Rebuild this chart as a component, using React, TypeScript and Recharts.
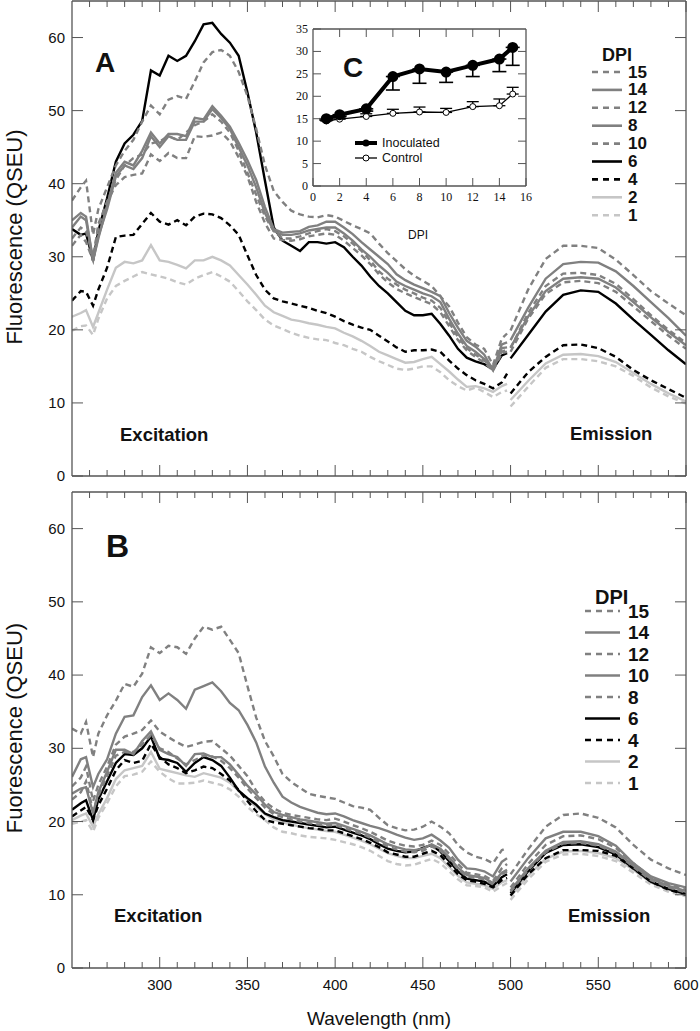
import React from 'react';
import { LineChart, Line, XAxis, YAxis, ErrorBar } from 'recharts';

const FONT = '"Liberation Sans", Arial, sans-serif';
const SERIF = '"Liberation Serif", "Times New Roman", serif';
const INK = '#111';
const AXIS = '#555';
const GRAY = '#808080';
const LIGHT = '#c6c6c6';
const BLACK = '#000';

// wavelengths (nm): excitation scan, then emission scan
const exWl = [
  250, 255, 258, 262, 265, 270, 275, 280, 285, 290,
  295, 300, 305, 310, 315, 320, 325, 330, 335, 340,
  345, 350, 355, 360, 365, 370, 375, 380, 385, 390,
  395, 400, 405, 410, 415, 420, 425, 430, 435, 440,
  445, 450, 455, 460, 465, 470, 475, 480, 485, 490,
  495, 498,
];
const emWl = [500, 510, 520, 530, 540, 550, 560, 570, 580, 590, 600];

const xTicks = [260, 270, 280, 290, 300, 310, 320, 330, 340, 350, 360, 370, 380, 390, 400, 410, 420, 430, 440, 450, 460, 470, 480, 490, 500, 510, 520, 530, 540, 550, 560, 570, 580, 590, 600];
const yTicks = [0, 10, 20, 30, 40, 50, 60];

// panel A
const a15Ex = [
  37.7, 39.5, 40.4, 33.0, 36.5, 39.5, 42.5, 44.5, 46.0, 48.5,
  50.7, 49.5, 51.5, 52.0, 51.6, 54.0, 56.6, 58.0, 58.3, 57.5,
  55.3, 52.0, 47.5, 42.5, 39.0, 37.5, 36.3, 35.8, 35.5, 35.4,
  35.7, 35.5, 34.9, 34.3, 33.8, 33.2, 31.8, 30.5, 29.4, 28.3,
  27.4, 26.7, 26.0, 24.6, 23.2, 21.0, 19.0, 18.0, 17.4, 15.2,
  18.8, 19.5,
];
const a15Em = [19.9, 25.5, 29.7, 31.5, 31.5, 31.2, 29.6, 27.5, 25.3, 23.6, 22.0];

const a14Ex = [
  35.0, 36.0, 35.5, 29.5, 32.5, 37.0, 41.5, 43.0, 42.5, 44.5,
  47.0, 45.5, 46.8, 46.8, 46.5, 49.0, 48.8, 50.6, 49.3, 47.8,
  45.6, 43.2, 40.5, 36.8, 33.8, 33.3, 33.4, 33.5, 34.1, 34.3,
  34.8, 34.8, 34.0, 33.1, 32.0, 31.0, 30.0, 29.0, 27.6, 26.8,
  26.2, 25.7, 25.2, 24.6, 22.3, 20.3, 18.5, 17.7, 16.6, 14.5,
  18.0, 18.3,
];
const a14Em = [18.6, 23.0, 27.0, 29.0, 29.3, 29.2, 28.0, 26.0, 23.8, 21.6, 19.2];

const a12Ex = [
  32.5, 34.0, 33.5, 30.0, 34.0, 37.5, 40.5, 42.5, 43.5, 44.0,
  45.5, 45.8, 46.5, 46.0, 47.0, 48.0, 48.5, 49.5, 48.5, 47.0,
  44.5, 41.5, 38.5, 35.5, 33.5, 32.5, 32.5, 32.8, 33.2, 33.5,
  33.8, 33.5, 32.8, 31.8, 30.8, 29.5, 28.0, 27.0, 26.2, 25.5,
  25.0, 24.4, 24.0, 23.0, 21.0, 19.0, 17.5, 16.6, 15.8, 14.8,
  17.0, 17.3,
];
const a12Em = [17.5, 22.3, 26.0, 27.7, 27.8, 27.5, 26.3, 24.2, 22.0, 20.0, 18.2];

const a8Ex = [
  34.0, 35.5, 35.0, 29.5, 32.8, 36.5, 41.0, 42.5, 42.0, 43.5,
  46.5, 45.0, 46.5, 46.0, 46.0, 48.5, 48.5, 50.2, 49.0, 47.5,
  45.0, 42.5, 39.5, 36.0, 33.5, 33.0, 33.0, 33.2, 33.6, 33.8,
  34.0, 34.0, 33.2, 32.2, 31.0, 30.0, 28.8, 27.8, 26.6, 26.0,
  25.5, 25.0, 24.6, 23.8, 21.5, 19.5, 17.8, 17.0, 16.0, 14.5,
  17.5, 17.6,
];
const a8Em = [17.6, 21.8, 25.3, 27.0, 27.2, 27.0, 25.8, 23.8, 21.7, 19.7, 17.9];

const a10Ex = [
  31.5, 33.0, 32.0, 29.5, 34.5, 37.5, 39.8, 40.9, 41.2, 41.4,
  44.0, 43.1, 44.2, 43.5, 43.5, 46.5, 46.4, 46.6, 47.0, 45.8,
  43.6, 41.0, 37.5, 34.6, 32.5, 32.3, 32.2, 32.4, 32.8, 33.0,
  33.2, 33.0, 32.2, 31.2, 30.2, 29.0, 27.6, 26.5, 25.6, 25.0,
  24.5, 24.0, 23.5, 22.4, 20.5, 18.6, 17.2, 16.3, 15.5, 14.4,
  16.8, 17.0,
];
const a10Em = [17.0, 21.5, 24.9, 26.5, 26.7, 26.4, 25.2, 23.2, 21.2, 19.2, 17.4];

const a6Ex = [
  33.8, 33.0, 33.2, 29.5, 33.5, 38.0, 43.0, 45.5, 46.7, 48.6,
  55.5, 54.8, 57.5, 56.8, 57.5, 59.5, 61.8, 62.0, 60.5, 59.3,
  57.5, 52.5, 47.0, 40.4, 34.0, 32.2, 31.5, 30.8, 32.0, 32.0,
  31.8, 32.0, 31.3, 30.0, 28.8, 27.3, 26.0, 25.0, 23.8, 22.6,
  22.0, 22.0, 22.2, 20.8, 19.2, 17.4, 16.2, 15.7, 15.3, 14.6,
  16.5, 16.8,
];
const a6Em = [16.1, 19.3, 22.5, 24.8, 25.4, 25.2, 23.6, 21.4, 19.3, 17.2, 15.3];

const a4Ex = [
  24.0, 25.3, 25.2, 23.3, 25.5, 28.5, 32.7, 32.9, 33.0, 34.5,
  36.0, 34.8, 34.4, 35.0, 34.3, 35.5, 35.9, 35.8, 35.3, 34.3,
  33.0, 30.2, 27.5, 25.5, 24.3, 23.9, 23.6, 23.3, 23.0, 22.6,
  22.3, 21.8, 21.2, 20.7, 20.3, 20.0, 19.2, 18.4, 17.6, 17.0,
  17.2, 17.2, 17.3, 17.0, 15.8, 14.7, 13.8, 13.1, 12.6, 12.0,
  12.8, 14.0,
];
const a4Em = [11.3, 14.2, 16.3, 17.9, 18.0, 17.5, 16.3, 14.5, 13.1, 11.9, 10.7];

const a2Ex = [
  21.8, 22.3, 22.7, 20.4, 22.3, 25.5, 28.5, 29.3, 29.1, 29.5,
  31.6, 29.5, 29.3, 28.9, 28.4, 29.5, 29.5, 30.0, 29.5, 28.8,
  27.5, 26.2, 24.8, 23.3, 22.4, 21.9, 21.4, 21.2, 20.9, 20.7,
  20.4, 20.2, 19.6, 19.1, 18.5, 17.8, 17.0, 16.5, 16.0, 15.5,
  15.6, 16.0, 16.3, 15.3, 14.3, 13.2, 12.2, 12.3, 12.0, 11.5,
  12.3, 12.6,
];
const a2Em = [10.4, 13.0, 15.4, 16.6, 16.7, 16.4, 15.6, 14.1, 12.6, 11.3, 10.2];

const a1Ex = [
  19.9, 20.5, 20.6, 19.3, 21.5, 24.3, 26.0, 26.7, 27.3, 27.9,
  27.6, 27.3, 27.0, 26.5, 26.2, 27.0, 27.5, 27.9, 27.3, 26.6,
  25.3, 23.9, 22.7, 21.4, 20.6, 20.1, 19.6, 19.2, 18.9, 18.7,
  18.6, 18.2, 17.9, 17.4, 17.0, 16.3, 15.7, 15.2, 14.7, 14.5,
  14.7, 15.0, 15.0, 14.2, 13.1, 12.3, 11.7, 12.1, 11.5, 10.8,
  11.5, 11.7,
];
const a1Em = [9.5, 12.2, 14.8, 16.0, 16.0, 15.7, 15.0, 13.7, 12.1, 10.9, 9.9];

// panel B
const b15Ex = [
  32.7, 32.0, 33.6, 28.8, 32.0, 34.5, 36.5, 38.8, 38.4, 40.2,
  43.8, 43.0, 44.0, 43.8, 42.9, 45.0, 46.6, 46.2, 46.6, 44.8,
  43.0, 38.5, 34.2, 31.0, 28.9, 26.5, 25.4, 24.6, 23.8, 23.5,
  23.3, 23.1, 22.6, 22.1, 21.9, 21.6, 20.5, 19.5, 19.1, 18.8,
  18.9, 19.3, 20.0, 19.3, 18.4, 16.8, 15.8, 15.2, 14.9, 14.3,
  16.1, 16.4,
];
const b15Em = [12.8, 16.2, 19.3, 20.9, 21.1, 20.5, 19.2, 16.8, 14.8, 13.6, 12.7];

const b14Ex = [
  26.1, 28.5, 28.8, 24.7, 26.5, 28.5, 32.0, 34.3, 34.5, 37.0,
  38.6, 36.6, 37.5, 36.6, 35.4, 38.0, 38.5, 39.0, 37.8, 36.2,
  35.2, 33.2, 30.8, 27.5, 25.3, 23.4, 22.6, 22.0, 21.6, 21.2,
  21.0, 21.1, 20.7, 20.2, 19.8, 19.4, 19.1, 18.7, 18.2, 17.8,
  17.5, 17.7, 18.2, 17.4, 16.4, 14.8, 13.6, 13.5, 13.2, 12.5,
  14.5, 15.0,
];
const b14Em = [11.8, 15.0, 17.7, 18.6, 18.6, 18.0, 16.7, 14.3, 12.5, 11.6, 11.0];

const b12Ex = [
  24.8, 26.0, 27.5, 22.8, 25.0, 27.5, 30.5, 31.6, 32.0, 32.5,
  33.8, 32.3, 31.5, 30.8, 30.2, 30.5, 30.9, 31.0, 30.0, 29.0,
  27.6, 26.2, 24.2, 22.7, 21.8, 21.2, 20.9, 20.7, 20.5, 20.3,
  20.2, 20.4, 20.0, 19.5, 19.1, 18.6, 18.0, 17.4, 17.0, 16.7,
  16.6, 16.8, 17.4, 16.8, 15.6, 14.2, 13.0, 12.8, 12.6, 11.9,
  13.6, 14.2,
];
const b12Em = [11.0, 14.2, 16.8, 18.0, 18.1, 17.6, 16.4, 14.3, 12.4, 11.4, 10.7];

const b10Ex = [
  23.8, 24.5, 24.7, 21.1, 24.0, 26.8, 29.8, 29.8, 29.2, 31.0,
  32.3, 29.8, 29.2, 28.8, 27.6, 29.2, 29.3, 28.8, 28.8, 27.8,
  26.4, 24.9, 23.7, 22.3, 21.3, 20.9, 20.6, 20.3, 20.1, 19.9,
  19.7, 19.8, 19.4, 19.0, 18.6, 18.1, 17.5, 16.9, 16.5, 16.2,
  16.1, 16.3, 16.9, 16.3, 15.1, 13.7, 12.7, 12.5, 12.3, 11.6,
  13.0, 13.4,
];
const b10Em = [10.6, 13.6, 16.0, 17.2, 17.3, 16.9, 15.9, 14.0, 12.2, 11.2, 10.5];

const b8Ex = [
  23.0, 24.0, 25.5, 21.5, 23.5, 26.2, 29.0, 29.5, 29.5, 30.5,
  31.8, 30.0, 29.5, 28.6, 27.8, 28.4, 29.0, 28.9, 28.3, 27.3,
  26.0, 24.5, 23.2, 21.9, 21.0, 20.6, 20.3, 20.0, 19.8, 19.6,
  19.5, 19.5, 19.1, 18.7, 18.3, 17.8, 17.2, 16.6, 16.2, 15.9,
  15.8, 16.0, 16.6, 16.0, 14.9, 13.5, 12.5, 12.3, 12.1, 11.4,
  12.8, 13.2,
];
const b8Em = [10.4, 13.4, 15.8, 17.0, 17.1, 16.7, 15.7, 13.8, 12.0, 11.0, 10.3];

const b6Ex = [
  21.6, 22.5, 22.9, 20.2, 23.0, 25.5, 28.0, 29.2, 29.1, 30.0,
  31.6, 28.6, 28.4, 28.0, 26.8, 28.0, 28.8, 28.4, 27.6, 26.0,
  24.2, 23.2, 22.3, 21.1, 20.6, 20.2, 20.0, 19.8, 19.6, 19.4,
  19.2, 19.3, 18.9, 18.5, 18.1, 17.6, 16.9, 16.3, 16.0, 15.8,
  15.9, 16.4, 16.8, 15.9, 14.6, 13.2, 12.2, 12.0, 11.8, 11.2,
  12.4, 12.8,
];
const b6Em = [10.2, 13.2, 15.7, 16.8, 16.9, 16.5, 15.5, 13.6, 11.8, 10.8, 10.1];

const b4Ex = [
  20.7, 21.5, 22.0, 20.2, 22.2, 24.5, 27.0, 28.4, 28.0, 28.3,
  30.6, 28.8, 27.8, 27.3, 26.6, 27.0, 27.5, 27.3, 26.5, 25.6,
  24.3, 22.8, 21.4, 20.2, 19.9, 19.7, 19.5, 19.3, 19.1, 19.0,
  18.8, 18.8, 18.4, 18.0, 17.6, 17.1, 16.5, 15.8, 15.5, 15.2,
  15.2, 15.6, 16.0, 15.4, 14.1, 12.8, 12.0, 11.8, 11.5, 11.0,
  12.0, 12.3,
];
const b4Em = [9.9, 12.8, 15.0, 16.1, 16.1, 16.0, 15.3, 13.6, 11.8, 10.7, 10.0];

const b2Ex = [
  20.2, 20.8, 21.1, 19.3, 21.0, 23.2, 25.8, 27.0, 27.3, 27.6,
  29.5, 27.2, 26.9, 26.6, 26.3, 26.1, 26.6, 26.3, 26.0, 25.3,
  24.2, 23.0, 22.0, 21.0, 20.3, 19.9, 19.6, 19.3, 19.1, 18.9,
  18.7, 18.6, 18.2, 17.8, 17.4, 16.9, 16.3, 15.7, 15.3, 15.0,
  15.0, 15.3, 15.6, 15.0, 13.8, 12.6, 11.7, 11.5, 11.3, 10.8,
  11.7, 12.0,
];
const b2Em = [9.8, 12.6, 14.9, 15.9, 16.0, 15.7, 15.0, 13.4, 11.7, 10.7, 10.0];

const b1Ex = [
  19.7, 20.0, 20.2, 18.6, 20.5, 22.5, 24.8, 26.2, 26.4, 26.8,
  28.2, 26.8, 25.9, 25.2, 25.2, 25.3, 25.6, 25.3, 25.0, 24.4,
  23.4, 22.0, 21.0, 20.2, 19.2, 18.6, 18.4, 18.1, 17.9, 17.8,
  17.7, 17.5, 17.2, 16.9, 16.5, 16.0, 15.3, 14.6, 14.2, 14.0,
  14.1, 14.5, 14.9, 14.3, 13.2, 12.1, 11.3, 11.2, 11.0, 10.4,
  11.2, 11.6,
];
const b1Em = [9.3, 12.1, 14.5, 15.5, 15.6, 15.3, 14.6, 13.0, 11.4, 10.4, 9.8];

// inset C: mean fluorescence per day
const dpiDays = [1, 2, 4, 6, 8, 10, 12, 14, 15];
const inoculated = [15.0, 15.9, 17.2, 24.4, 26.1, 25.4, 26.9, 28.3, 30.9];
const inoculatedErr = [0.3, 0.4, 0.5, 3.0, 3.2, 2.3, 2.5, 2.8, 4.0];
const control = [14.5, 14.9, 15.5, 16.2, 16.5, 16.4, 17.7, 17.9, 20.5];
const controlErr = [0.2, 0.3, 0.6, 0.9, 1.1, 0.9, 1.1, 1.5, 1.5];

type Series = { key: string; label: string; ex: number[]; em: number[]; color: string; dashed: boolean };

const seriesA: Series[] = [
  { key: 'd15', label: '15', ex: a15Ex, em: a15Em, color: GRAY, dashed: true },
  { key: 'd14', label: '14', ex: a14Ex, em: a14Em, color: GRAY, dashed: false },
  { key: 'd12', label: '12', ex: a12Ex, em: a12Em, color: GRAY, dashed: true },
  { key: 'd8', label: '8', ex: a8Ex, em: a8Em, color: GRAY, dashed: false },
  { key: 'd10', label: '10', ex: a10Ex, em: a10Em, color: GRAY, dashed: true },
  { key: 'd6', label: '6', ex: a6Ex, em: a6Em, color: BLACK, dashed: false },
  { key: 'd4', label: '4', ex: a4Ex, em: a4Em, color: BLACK, dashed: true },
  { key: 'd2', label: '2', ex: a2Ex, em: a2Em, color: LIGHT, dashed: false },
  { key: 'd1', label: '1', ex: a1Ex, em: a1Em, color: LIGHT, dashed: true },
];

const seriesB: Series[] = [
  { key: 'd15', label: '15', ex: b15Ex, em: b15Em, color: GRAY, dashed: true },
  { key: 'd14', label: '14', ex: b14Ex, em: b14Em, color: GRAY, dashed: false },
  { key: 'd12', label: '12', ex: b12Ex, em: b12Em, color: GRAY, dashed: true },
  { key: 'd10', label: '10', ex: b10Ex, em: b10Em, color: GRAY, dashed: false },
  { key: 'd8', label: '8', ex: b8Ex, em: b8Em, color: GRAY, dashed: true },
  { key: 'd6', label: '6', ex: b6Ex, em: b6Em, color: BLACK, dashed: false },
  { key: 'd4', label: '4', ex: b4Ex, em: b4Em, color: BLACK, dashed: true },
  { key: 'd2', label: '2', ex: b2Ex, em: b2Em, color: LIGHT, dashed: false },
  { key: 'd1', label: '1', ex: b1Ex, em: b1Em, color: LIGHT, dashed: true },
];

const buildRows = (series: Series[]) => {
  const rows: Record<string, number | null>[] = exWl.map((wl, i) => {
    const r: Record<string, number | null> = { wl };
    series.forEach((s) => (r[s.key] = s.ex[i]));
    return r;
  });
  // break between excitation and emission scans
  const gap: Record<string, number | null> = { wl: 499 };
  series.forEach((s) => (gap[s.key] = null));
  rows.push(gap);
  emWl.forEach((wl, i) => {
    const r: Record<string, number | null> = { wl };
    series.forEach((s) => (r[s.key] = s.em[i]));
    rows.push(r);
  });
  return rows;
};

const insetRows = dpiDays.map((d, i) => ({
  dpi: d,
  inoc: inoculated[i],
  inocErr: [inoculatedErr[i], 0],
  ctrl: control[i],
  ctrlErr: [0, controlErr[i]],
}));

// inward ticks ---------------------------------------------------------
const bottomTick = (showLabel: boolean) => (p: any) => {
  const { x, y, payload } = p;
  const major = payload.value % 50 === 0;
  return (
    <g>
      <line x1={x} x2={x} y1={y} y2={y - (major ? 11 : 6)} stroke={AXIS} />
      {showLabel && major && (
        <text x={x} y={y + 22} textAnchor="middle" fontSize={15} fontFamily={FONT} fill={INK}>
          {payload.value}
        </text>
      )}
    </g>
  );
};

const topTick = (p: any) => {
  const { x, y, payload } = p;
  const major = payload.value % 50 === 0;
  return <line x1={x} x2={x} y1={y} y2={y + (major ? 11 : 6)} stroke={AXIS} />;
};

const leftTick = (p: any) => {
  const { x, y, payload } = p;
  return (
    <g>
      <line x1={x} x2={x + 11} y1={y} y2={y} stroke={AXIS} />
      <text x={x - 7} y={y + 5} textAnchor="end" fontSize={15} fontFamily={FONT} fill={INK}>
        {payload.value}
      </text>
    </g>
  );
};

const rightTick = (p: any) => {
  const { x, y } = p;
  return <line x1={x} x2={x - 11} y1={y} y2={y} stroke={AXIS} />;
};

const insetBottomTick = (p: any) => {
  const { x, y, payload } = p;
  return (
    <g>
      <line x1={x} x2={x} y1={y} y2={y - 8} stroke={AXIS} />
      <text x={x} y={y + 15} textAnchor="middle" fontSize={12} fontFamily={SERIF} fill={INK}>
        {payload.value}
      </text>
    </g>
  );
};
const insetTopTick = (p: any) => <line x1={p.x} x2={p.x} y1={p.y} y2={p.y + 8} stroke={AXIS} />;
const insetLeftTick = (p: any) => {
  const { x, y, payload } = p;
  return (
    <g>
      <line x1={x} x2={x + 8} y1={y} y2={y} stroke={AXIS} />
      <text x={x - 5} y={y + 4} textAnchor="end" fontSize={12} fontFamily={SERIF} fill={INK}>
        {payload.value}
      </text>
    </g>
  );
};
const insetRightTick = (p: any) => <line x1={p.x} x2={p.x - 8} y1={p.y} y2={p.y} stroke={AXIS} />;

const axisLine = { stroke: AXIS, strokeWidth: 1.3 };

const Panel = ({ series, height, showXLabels }: { series: Series[]; height: number; showXLabels: boolean }) => {
  const rows = buildRows(series);
  return (
    <LineChart width={700} height={height} data={rows} margin={{ top: 0, right: 13, bottom: 0, left: 0 }}>
      <XAxis
        xAxisId="b"
        dataKey="wl"
        type="number"
        domain={[250, 600]}
        allowDataOverflow
        ticks={xTicks}
        interval={0}
        height={showXLabels ? 40 : 14}
        axisLine={axisLine}
        tickLine={false}
        tickSize={0}
        tickMargin={0}
        tick={bottomTick(showXLabels)}
      />
      <XAxis
        xAxisId="t"
        orientation="top"
        dataKey="wl"
        type="number"
        domain={[250, 600]}
        allowDataOverflow
        ticks={xTicks}
        interval={0}
        height={1}
        axisLine={axisLine}
        tickLine={false}
        tickSize={0}
        tickMargin={0}
        tick={topTick}
      />
      <YAxis
        yAxisId="l"
        type="number"
        domain={[0, 65]}
        allowDataOverflow
        ticks={yTicks}
        interval={0}
        width={72}
        axisLine={axisLine}
        tickLine={false}
        tickSize={0}
        tickMargin={0}
        tick={leftTick}
      />
      <YAxis
        yAxisId="r"
        orientation="right"
        type="number"
        domain={[0, 65]}
        allowDataOverflow
        ticks={yTicks}
        interval={0}
        width={1}
        axisLine={axisLine}
        tickLine={false}
        tickSize={0}
        tickMargin={0}
        tick={rightTick}
      />
      {[...series].reverse().map((s) => (
        <Line
          key={s.key}
          xAxisId="b"
          yAxisId="l"
          dataKey={s.key}
          type="linear"
          stroke={s.color}
          strokeWidth={2.4}
          strokeDasharray={s.dashed ? '6 4' : undefined}
          dot={false}
          activeDot={false}
          isAnimationActive={false}
        />
      ))}
      <Line
        xAxisId="t"
        yAxisId="r"
        dataKey={series[0].key}
        stroke="none"
        strokeWidth={0}
        dot={false}
        activeDot={false}
        isAnimationActive={false}
      />
    </LineChart>
  );
};

const Inset = () => (
  <LineChart width={270} height={186} data={insetRows} margin={{ top: 8, right: 16, bottom: 0, left: 0 }}>
    <XAxis
      xAxisId="b"
      dataKey="dpi"
      type="number"
      domain={[0, 16]}
      allowDataOverflow
      ticks={[0, 2, 4, 6, 8, 10, 12, 14, 16]}
      interval={0}
      height={20}
      axisLine={axisLine}
      tickLine={false}
      tickSize={0}
      tickMargin={0}
      tick={insetBottomTick}
    />
    <XAxis
      xAxisId="t"
      orientation="top"
      dataKey="dpi"
      type="number"
      domain={[0, 16]}
      allowDataOverflow
      ticks={[2, 4, 6, 8, 10, 12, 14]}
      interval={0}
      height={1}
      axisLine={axisLine}
      tickLine={false}
      tickSize={0}
      tickMargin={0}
      tick={insetTopTick}
    />
    <YAxis
      yAxisId="l"
      type="number"
      domain={[0, 35]}
      allowDataOverflow
      ticks={[0, 5, 10, 15, 20, 25, 30, 35]}
      interval={0}
      width={40}
      axisLine={axisLine}
      tickLine={false}
      tickSize={0}
      tickMargin={0}
      tick={insetLeftTick}
    />
    <YAxis
      yAxisId="r"
      orientation="right"
      type="number"
      domain={[0, 35]}
      allowDataOverflow
      ticks={[5, 10, 15, 20, 25, 30]}
      interval={0}
      width={1}
      axisLine={axisLine}
      tickLine={false}
      tickSize={0}
      tickMargin={0}
      tick={insetRightTick}
    />
    <Line
      xAxisId="b"
      yAxisId="l"
      dataKey="ctrl"
      stroke={BLACK}
      strokeWidth={1.3}
      dot={{ r: 3, fill: '#fff', stroke: BLACK, strokeWidth: 1 }}
      activeDot={false}
      isAnimationActive={false}
    >
      <ErrorBar dataKey="ctrlErr" direction="y" width={6} stroke={BLACK} strokeWidth={1.3} />
    </Line>
    <Line
      xAxisId="b"
      yAxisId="l"
      dataKey="inoc"
      stroke={BLACK}
      strokeWidth={4}
      dot={{ r: 3.5, fill: BLACK, stroke: BLACK }}
      activeDot={false}
      isAnimationActive={false}
    >
      <ErrorBar dataKey="inocErr" direction="y" width={7} stroke={BLACK} strokeWidth={1.6} />
    </Line>
    <Line
      xAxisId="t"
      yAxisId="r"
      dataKey="ctrl"
      stroke="none"
      strokeWidth={0}
      dot={false}
      activeDot={false}
      isAnimationActive={false}
    />
  </LineChart>
);

const DpiLegend = ({ series, x, titleY, y0, step, lineLen, fontSize }: any) => (
  <g fontFamily={FONT} fontWeight="bold" fill={INK}>
    <text x={x + 10} y={titleY} fontSize={fontSize + 1} dominantBaseline="central">
      DPI
    </text>
    {series.map((s: Series, i: number) => {
      const yy = y0 + i * step;
      return (
        <g key={s.key}>
          <line
            x1={x}
            x2={x + lineLen}
            y1={yy}
            y2={yy}
            stroke={s.color}
            strokeWidth={2.6}
            strokeDasharray={s.dashed ? '6 5' : undefined}
          />
          <text x={628} y={yy} fontSize={fontSize} dominantBaseline="central">
            {s.label}
          </text>
        </g>
      );
    })}
  </g>
);

export default function App() {
  return (
    <div style={{ position: 'absolute', left: 0, top: 0, width: 700, height: 1031, background: '#fff' }}>
      <div style={{ position: 'absolute', left: 0, top: 0 }}>
        <Panel series={seriesA} height={490} showXLabels={false} />
      </div>
      <div style={{ position: 'absolute', left: 0, top: 491 }}>
        <Panel series={seriesB} height={517} showXLabels />
      </div>
      <div style={{ position: 'absolute', left: 273, top: 20 }}>
        <Inset />
      </div>
      <svg
        width={700}
        height={1031}
        style={{ position: 'absolute', left: 0, top: 0, pointerEvents: 'none' }}
      >
        <g fontFamily={FONT} fill={INK}>
          <text x={95} y={72} fontSize={28} fontWeight="bold">A</text>
          <text x={106} y={557} fontSize={32} fontWeight="bold">B</text>
          <text x={343} y={77} fontSize={28} fontWeight="bold">C</text>
          <text x={120} y={441} fontSize={18.5} fontWeight="bold">Excitation</text>
          <text x={570} y={440} fontSize={18.5} fontWeight="bold">Emission</text>
          <text x={114} y={922} fontSize={18.5} fontWeight="bold">Excitation</text>
          <text x={568} y={922} fontSize={18.5} fontWeight="bold">Emission</text>
          <text x={22} y={237} fontSize={22} textAnchor="middle" transform="rotate(-90 22 237)">
            Fluorescence (QSEU)
          </text>
          <text x={22} y={728} fontSize={22} textAnchor="middle" transform="rotate(-90 22 728)">
            Fuorescence (QSEU)
          </text>
          <text x={379} y={1025} fontSize={19} textAnchor="middle">Wavelength (nm)</text>
          <text x={418} y={239} fontSize={12} textAnchor="middle">DPI</text>
          {/* inset legend */}
          <line x1={355} x2={377} y1={143} y2={143} stroke={BLACK} strokeWidth={4} />
          <circle cx={366} cy={143} r={3.5} fill={BLACK} />
          <text x={382} y={143} fontSize={12.5} dominantBaseline="central">Inoculated</text>
          <line x1={355} x2={377} y1={158} y2={158} stroke={BLACK} strokeWidth={1.3} />
          <circle cx={366} cy={158} r={3} fill="#fff" stroke={BLACK} />
          <text x={382} y={158} fontSize={12.5} dominantBaseline="central">Control</text>
        </g>
        <DpiLegend series={seriesA} x={592} titleY={55} y0={72} step={17.9} lineLen={30} fontSize={17} />
        <DpiLegend series={seriesB} x={585} titleY={597} y0={611} step={21.5} lineLen={35} fontSize={19} />
      </svg>
    </div>
  );
}
